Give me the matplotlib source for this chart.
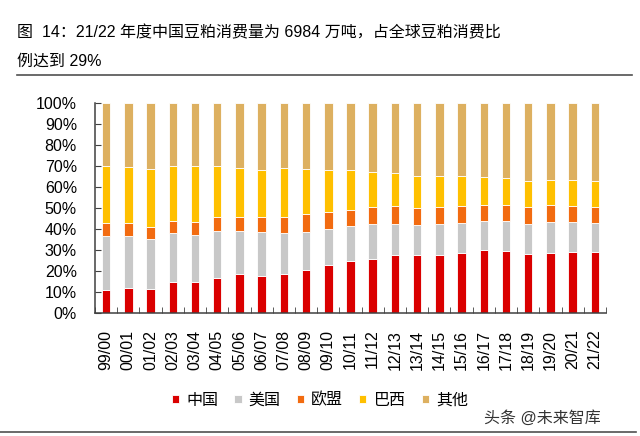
import numpy as np
import matplotlib.pyplot as plt
from matplotlib.lines import Line2D

plt.rcParams['font.family'] = ['Liberation Sans', 'Noto Sans CJK SC', 'DejaVu Sans']

# data (share of world soybean meal consumption, %)
years = ["99/00", "00/01", "01/02", "02/03", "03/04", "04/05", "05/06", "06/07",
         "07/08", "08/09", "09/10", "10/11", "11/12", "12/13", "13/14", "14/15",
         "15/16", "16/17", "17/18", "18/19", "19/20", "20/21", "21/22"]
china  = [10.8, 12.0, 11.4, 14.9, 14.9, 16.5, 18.4, 17.7, 18.8, 20.4, 22.8, 25.0,
          25.8, 27.5, 27.5, 27.5, 28.6, 30.2, 29.7, 28.1, 28.6, 29.2, 28.9]
usa    = [25.9, 24.7, 23.9, 23.1, 22.3, 22.6, 20.8, 20.7, 19.2, 18.4, 17.4, 16.5,
          16.6, 14.9, 14.6, 14.9, 14.3, 13.8, 14.3, 14.3, 14.9, 14.0, 13.8]
eu     = [6.0, 6.0, 5.8, 6.0, 6.0, 6.5, 6.4, 7.3, 7.9, 8.4, 8.1, 7.6,
          7.9, 8.4, 7.7, 7.9, 8.1, 7.5, 7.5, 7.9, 8.0, 7.8, 7.6]
brazil = [27.4, 26.9, 27.4, 25.9, 26.6, 24.3, 23.5, 22.3, 23.1, 21.2, 19.7, 18.8,
          16.8, 15.7, 15.6, 15.1, 14.1, 13.1, 12.6, 12.4, 12.0, 12.2, 12.4]
other  = [100 - a - b - c - d for a, b, c, d in zip(china, usa, eu, brazil)]

series = [("中国", china, "#DA0000"),
          ("美国", usa, "#C8C8C8"),
          ("欧盟", eu, "#F26B10"),
          ("巴西", brazil, "#FFC000"),
          ("其他", other, "#DDB060")]

fig = plt.figure(figsize=(6.4, 4.36), dpi=100)
ax = fig.add_axes([95/640, 1 - 313/436, (606 - 95)/640, (313 - 103)/436])

x = np.arange(len(years))
bottom = np.zeros(len(years))
for name, vals, color in series:
    v = np.array(vals) / 100
    ax.bar(x, v, 0.38, bottom=bottom, color=color, label=name,
           edgecolor="white", linewidth=0.6)
    bottom += v

ax.set_xlim(-0.5, len(years) - 0.5)
ax.set_ylim(0, 1)
ax.set_yticks(np.arange(0, 1.01, 0.1))
ax.set_yticklabels([f"{int(round(t*100))}%" for t in np.arange(0, 1.01, 0.1)], fontsize=11.5)
ax.set_xticks(x)
ax.set_xticklabels(years, rotation=90, fontsize=11.5)
ax.set_xticks(np.arange(-0.5, len(years)), minor=True)
ax.tick_params(axis="x", which="major", length=0, pad=12)
ax.tick_params(axis="x", which="minor", direction="in", length=4, color="#404040")
ax.tick_params(axis="y", direction="in", length=4, color="#404040", pad=13)

for s in ["top", "right"]:
    ax.spines[s].set_visible(False)
for s in ["left", "bottom"]:
    ax.spines[s].set_color("#404040")
    ax.spines[s].set_linewidth(1.1)

fig.legend(loc="center", bbox_to_anchor=(0.5, 1 - 400/436), ncol=5, frameon=False,
           fontsize=11.5, handlelength=0.45, handleheight=0.45, handletextpad=0.45,
           columnspacing=1.0)

fig.text(17/640, 1 - 33/436, "图  14：21/22 年度中国豆粕消费量为 6984 万吨，占全球豆粕消费比",
         fontsize=11.5, va="center", ha="left")
fig.text(17/640, 1 - 61/436, "例达到 29%", fontsize=11.5, va="center", ha="left")
fig.add_artist(Line2D([17/640, 632/640], [1 - 75/436] * 2, color="#505050", linewidth=1.2))
fig.add_artist(Line2D([0, 636/640], [1 - 432/436] * 2, color="#505050", linewidth=1.2))
fig.text(601/640, 1 - 418/436, "头条 @未来智库", fontsize=11.5, ha="right", va="center",
         color="#333333")

fig.savefig("out.png", dpi=100)
